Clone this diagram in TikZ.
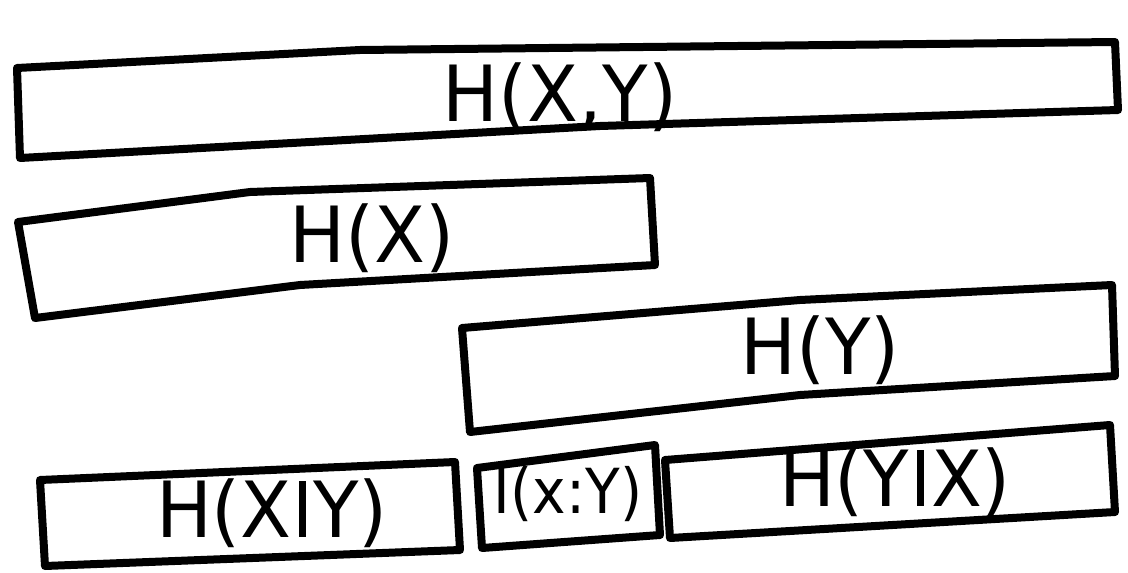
\documentclass[tikz,border=0pt]{standalone}
\usepackage{fontspec}
\setmainfont{DejaVu Sans}
\newcommand{\mybar}{\hspace{0.1em}\rule{0.09em}{0.73em}\hspace{0.1em}}
\begin{document}
\begin{tikzpicture}[x=1pt,y=-1pt,
  hbox/.style={draw=black,line width=8pt,line join=round,line cap=round},
  lbl/.style={font=\fontsize{62}{62}\selectfont,inner sep=0pt,xscale=1.2,yscale=1.25},
  smalllbl/.style={font=\fontsize{54}{54}\selectfont,inner sep=0pt,xscale=1.05,yscale=1.15}]
\useasboundingbox (0,0) rectangle (1128,573);
% H(X,Y)
\draw[hbox] (17,68) -- (360,50) -- (1115,42) -- (1118,110) -- (600,126) -- (20,158) -- cycle;
% H(X)
\draw[hbox] (18,222) -- (250,192) -- (650,178) -- (655,265) -- (300,285) -- (35,318) -- cycle;
% H(Y)
\draw[hbox] (462,328) -- (800,300) -- (1112,285) -- (1115,376) -- (800,395) -- (470,432) -- cycle;
% H(X|Y)
\draw[hbox] (40,480) -- (455,462) -- (460,550) -- (45,566) -- cycle;
% I(X:Y)
\draw[hbox] (477,468) -- (655,445) -- (660,535) -- (482,548) -- cycle;
% H(Y|X)
\draw[hbox] (665,460) -- (1110,425) -- (1115,512) -- (670,538) -- cycle;
% labels
\node[lbl] (hxy) at (560,97) {H(X,Y)};
\node[lbl] (hx) at (372,238) {H(X)};
\node[lbl] (hy) at (820,350) {H(Y)};
\node[lbl] (hxgy) at (272,513) {H(X\mybar Y)};
\node[smalllbl] (ixy) at (568,494) {I(x:Y)};
\node[lbl] (hygx) at (895,482) {H(Y\mybar X)};
\end{tikzpicture}
\end{document}
